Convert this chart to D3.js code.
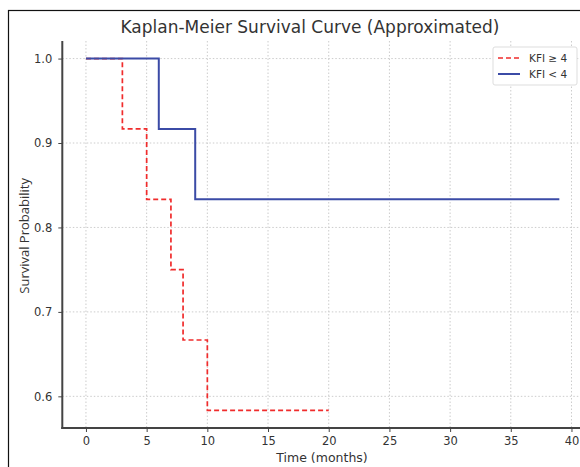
<!DOCTYPE html>
<html>
<head>
<meta charset="utf-8">
<script src="https://cdn.jsdelivr.net/npm/d3@7"></script>
<style>
  body { margin: 0; background: #fff; }
  svg { display: block; }
  .tick text { font-family: "DejaVu Sans", sans-serif; font-size: 11.5px; fill: #333; }
  .grid line { stroke: #ccc; stroke-dasharray: 1.5,2; }
</style>
</head>
<body>
<div id="chart"></div>
<script>
// step data: time where each level starts, survival after that time
const highTimes = [0, 3, 5, 7, 8, 10, 20];
const highSurv = [1.0, 0.9167, 0.8333, 0.75, 0.6667, 0.5833, 0.5833];
const lowTimes = [0, 6, 9, 39];
const lowSurv = [1.0, 0.9167, 0.8333, 0.8333];
const xTicks = [0, 5, 10, 15, 20, 25, 30, 35, 40];
const yTicks = [0.6, 0.7, 0.8, 0.9, 1.0];
const seriesNames = ['KFI \u2265 4', 'KFI < 4'];

const width = 580, height = 467;
const margin = { left: 62.3, top: 41, right: 0, bottom: 39 };

const svg = d3.select('#chart').append('svg')
  .attr('width', width)
  .attr('height', height);

// outer frame (runs off the right/bottom edge)
svg.append('rect')
  .attr('x', 8.5).attr('y', 10.5)
  .attr('width', 600).attr('height', 500)
  .attr('fill', 'none').attr('stroke', '#111').attr('stroke-width', 1.2);

var x = d3.scaleLinear()
  .domain([-1.95, 40.95])
  .range([margin.left, 583]);
var y = d3.scaleLinear()
  .domain([0.5625, 1.0208])
  .range([height - margin.bottom, margin.top]);

var plotTop = margin.top, plotBottom = height - margin.bottom;

// grid
svg.append('g').attr('class', 'grid')
  .selectAll('line.v').data(xTicks).enter().append('line')
  .attr('x1', d => x(d)).attr('x2', d => x(d))
  .attr('y1', plotTop).attr('y2', plotBottom);
svg.append('g').attr('class', 'grid')
  .selectAll('line.h').data(yTicks).enter().append('line')
  .attr('x1', margin.left).attr('x2', width)
  .attr('y1', d => y(d)).attr('y2', d => y(d));

// axes
var xAxis = svg.append('g')
  .attr('transform', 'translate(0,' + plotBottom + ')')
  .call(d3.axisBottom(x).tickValues(xTicks).tickFormat(d3.format('d')).tickSize(4).tickPadding(5));
xAxis.select('.domain').remove();
xAxis.selectAll('.tick line').attr('stroke', '#444');

var yAxis = svg.append('g')
  .attr('transform', 'translate(' + margin.left + ',0)')
  .call(d3.axisLeft(y).tickValues(yTicks).tickFormat(d3.format('.1f')).tickSize(4).tickPadding(6));
yAxis.select('.domain').remove();
yAxis.selectAll('.tick line').attr('stroke', '#444');

// spines
svg.append('line')
  .attr('x1', margin.left).attr('x2', margin.left)
  .attr('y1', plotTop).attr('y2', plotBottom + 1)
  .attr('stroke', '#444').attr('stroke-width', 2);
svg.append('line')
  .attr('x1', margin.left - 1).attr('x2', width)
  .attr('y1', plotBottom).attr('y2', plotBottom)
  .attr('stroke', '#444').attr('stroke-width', 2);

// step lines
var line = d3.line()
  .curve(d3.curveStepAfter)
  .x(d => x(d[0]))
  .y(d => y(d[1]));

svg.append('path')
  .datum(highTimes.map((t, i) => [t, highSurv[i]]))
  .attr('fill', 'none')
  .attr('stroke', '#f02c2c')
  .attr('stroke-width', 1.7)
  .attr('stroke-dasharray', '5,3')
  .attr('d', line);

svg.append('path')
  .datum(lowTimes.map((t, i) => [t, lowSurv[i]]))
  .attr('fill', 'none')
  .attr('stroke', '#3b4ba6')
  .attr('stroke-width', 2)
  .attr('d', line);

// title and labels
svg.append('text')
  .attr('x', 310).attr('y', 33)
  .attr('text-anchor', 'middle')
  .style('font-family', '"DejaVu Sans", sans-serif')
  .style('font-size', '17px')
  .style('fill', '#333')
  .text('Kaplan-Meier Survival Curve (Approximated)');

svg.append('text')
  .attr('x', 322).attr('y', 462)
  .attr('text-anchor', 'middle')
  .style('font-family', '"DejaVu Sans", sans-serif')
  .style('font-size', '12.5px')
  .style('fill', '#333')
  .text('Time (months)');

svg.append('text')
  .attr('transform', 'translate(29,' + y(0.79) + ') rotate(-90)')
  .attr('text-anchor', 'middle')
  .style('font-family', '"Open Sans", sans-serif')
  .style('font-size', '13px')
  .style('fill', '#333')
  .text('Survival Probability');

// legend
var legend = svg.append('g').attr('transform', 'translate(493,47)');
legend.append('rect')
  .attr('width', 84).attr('height', 38).attr('rx', 2)
  .attr('fill', '#fff').attr('stroke', '#ddd');
var items = legend.selectAll('g.item').data(seriesNames).enter().append('g')
  .attr('transform', (d, i) => 'translate(0,' + (11 + i * 16) + ')');
items.append('line')
  .attr('x1', 5).attr('x2', 27)
  .attr('stroke', (d, i) => i === 0 ? '#f02c2c' : '#3b4ba6')
  .attr('stroke-width', (d, i) => i === 0 ? 1.7 : 2)
  .attr('stroke-dasharray', (d, i) => i === 0 ? '5,3' : null);
items.append('text')
  .attr('x', 36).attr('y', 4)
  .style('font-family', '"DejaVu Sans", sans-serif')
  .style('font-size', '10.5px')
  .style('fill', '#333')
  .text(d => d);
</script>
</body>
</html>
